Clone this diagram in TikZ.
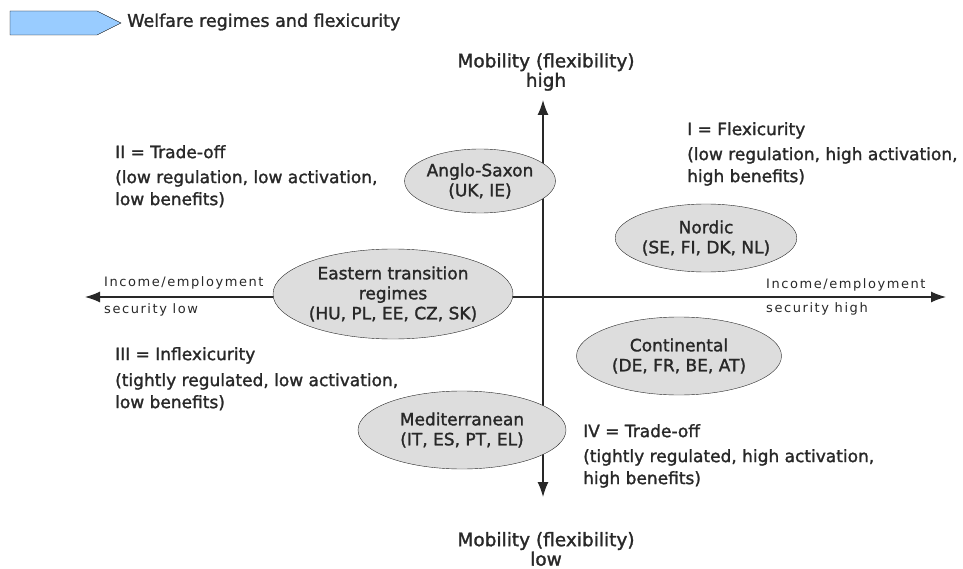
\documentclass[tikz,border=0pt]{standalone}
\usepackage{fontspec}
\setmainfont{DejaVu Sans}
\setsansfont{DejaVu Sans}
\newfontfamily\heavyfont[FakeBold=1.5]{DejaVu Sans}
\newfontfamily\smallfont[LetterSpace=12]{DejaVu Sans}
\usetikzlibrary{arrows.meta}
\usetikzlibrary{shapes.geometric}
\definecolor{regimegray}{RGB}{221,221,221}
\definecolor{titleblue}{RGB}{153,204,255}
\definecolor{inkgray}{RGB}{40,40,40}
\tikzset{every picture/.style={/utils/exec={\sffamily}}}
\tikzset{
  regime/.style={ellipse, draw=inkgray, fill=regimegray, inner sep=0pt,
    align=center, font=\fontsize{17}{20}\heavyfont, text=inkgray},
  quadrant/.style={align=left, anchor=north west, inner sep=0pt,
    font=\fontsize{17}{22}\heavyfont, text=inkgray},
  axislabel/.style={align=center, inner sep=0pt,
    font=\fontsize{18.5}{19.5}\heavyfont, text=inkgray},
  seclabel/.style={anchor=west, inner sep=0pt,
    font=\fontsize{13}{15}\smallfont, text=inkgray}
}

\begin{document}
\begin{tikzpicture}[x=1pt, y=-1pt, >={Latex[length=15pt,width=11pt]}]
  \useasboundingbox (0,0) rectangle (963,569);

  % title
  \draw [fill=titleblue] (10,11) -- (97,11) -- (121,23) -- (97,35) -- (10,35) -- cycle;
  \node (title) [anchor=west, inner sep=0pt, text=inkgray,
    font=\fontsize{17.5}{20}\heavyfont] at (127,22) {Welfare regimes and flexicurity};

  % axes
  \coordinate (origin) at (543,297);
  \coordinate (west) at (85,297);
  \coordinate (east) at (946,297);
  \coordinate (north) at (543,100);
  \coordinate (south) at (543,497);
  \draw [->, line width=1.3pt, inkgray] (origin) -- (west);
  \draw [->, line width=1.3pt, inkgray] (origin) -- (east);
  \draw [->, line width=1.3pt, inkgray] (origin) -- (north);
  \draw [->, line width=1.3pt, inkgray] (origin) -- (south);

  \node (mobhigh) [axislabel] at (546,72) {Mobility (flexibility)\\high};
  \node (moblow) [axislabel] at (546,549) {Mobility (flexibility)\\low};
  \node (inclow) [seclabel] at (104,283) {Income/employment};
  \node (seclow) [seclabel] at (104,310) {security low};
  \node (inchigh) [seclabel] at (766,285) {Income/employment};
  \node (sechigh) [seclabel] at (766,309) {security high};

  % regimes
  \node (anglo) [regime, minimum width=134pt, minimum height=64pt] at (480,181) {Anglo-Saxon\\(UK, IE)};
  \node (nordic) [regime, minimum width=142pt, minimum height=68pt] at (706,238) {Nordic\\(SE, FI, DK, NL)};
  \node (eastern) [regime, minimum width=240pt, minimum height=90pt] at (393,294) {Eastern transition\\regimes\\(HU, PL, EE, CZ, SK)};
  \node (continental) [regime, minimum width=205pt, minimum height=78pt] at (679,356) {Continental\\(DE, FR, BE, AT)};
  \node (medit) [regime, minimum width=208pt, minimum height=78pt] at (462,430) {Mediterranean\\(IT, ES, PT, EL)};

  % quadrants
  \node (quadI) [quadrant] at (687,122) {I = Flexicurity\\[3pt](low regulation, high activation,\\high benefits)};
  \node (quadII) [quadrant] at (115,145) {II = Trade-off\\[3pt](low regulation, low activation,\\low benefits)};
  \node (quadIII) [quadrant] at (115,347) {III = Inflexicurity\\[4pt](tightly regulated, low activation,\\low benefits)};
  \node (quadIV) [quadrant] at (583,424) {IV = Trade-off\\[3pt](tightly regulated, high activation,\\high benefits)};
\end{tikzpicture}
\end{document}
